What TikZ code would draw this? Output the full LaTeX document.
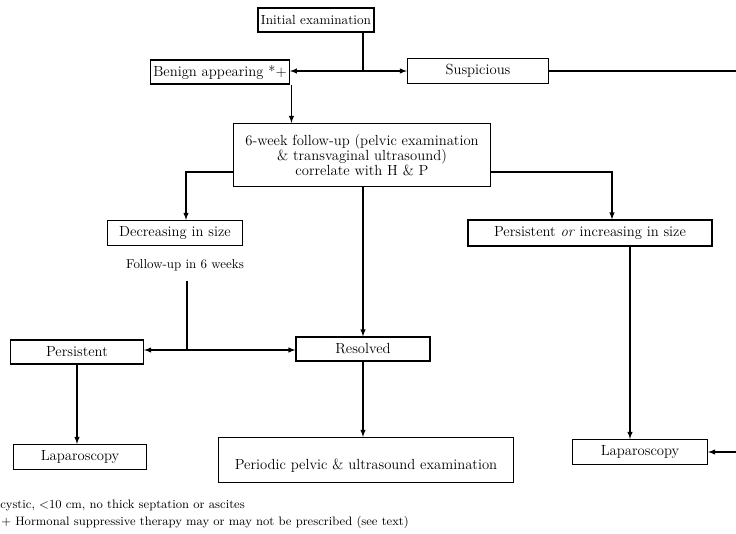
\documentclass[tikz,border=0pt]{standalone}
\usepackage{tikz}
\usetikzlibrary{arrows}
\tikzstyle{box}=[draw, line width=0.9pt, inner sep=2pt, align=center, font=\fontsize{11}{11.3}\selectfont]
\tikzstyle{flow}=[line width=0.8pt]
\tikzstyle{note}=[anchor=west, inner sep=0pt, font=\fontsize{9.2}{11}\selectfont]

\begin{document}
\begin{tikzpicture}[x=0.75pt, y=-0.75pt, font=\fontsize{9.7}{11}\selectfont]
\useasboundingbox (0,0) rectangle (736,533);
\clip (0,0) rectangle (736,533);
\node[box, minimum width=87pt, minimum height=18pt, font=\fontsize{9.9}{11}\selectfont] (init) at (316,20) {Initial examination};
\node[box, minimum width=99.75pt, minimum height=18pt] (benign) at (220,72) {Benign appearing *+};
\node[box, minimum width=105.75pt, minimum height=18.75pt] (susp) at (478,71) {Suspicious};
\node[box, minimum width=192.75pt, minimum height=47.25pt] (fwup) at (362,155) {6-week follow-up (pelvic examination\\ \& transvaginal ultrasound)\\ correlate with H \& P};
\node[box, minimum width=101.25pt, minimum height=18.75pt] (decr) at (175,233) {Decreasing in size};
\node (sixwk) at (185,265) {Follow-up in 6 weeks};
\node[box, minimum width=183pt, minimum height=19.5pt] (incr) at (590,233) {Persistent \emph{or} increasing in size};
\node[box, minimum width=99.75pt, minimum height=18pt] (pers) at (77,352) {Persistent};
\node[box, minimum width=100.5pt, minimum height=18pt] (resol) at (363,349) {Resolved};
\node[box, minimum width=99.75pt, minimum height=18.75pt] (lapl) at (80,457) {Laparoscopy};
\node[box, minimum width=221.25pt, minimum height=33.75pt] (period) at (366,460) {\raisebox{-4pt}[\height][\depth]{Periodic pelvic \& ultrasound examination}};
\node[box, minimum width=101.25pt, minimum height=18.75pt] (lapr) at (640,452) {Laparoscopy};
\node[note] (note1) at (0,505) {cystic, \textless10 cm, no thick septation or ascites};
\node[note] (note2) at (1,522) {+ Hormonal suppressive therapy may or may not be prescribed (see text)};
\coordinate (split) at (363,71);
\coordinate (edge) at (740,71);
\coordinate (join) at (187,350);
\draw[flow] (split |- init.south) -- (split);
\draw[flow,-latex] (split) -- (split -| benign.east);
\draw[flow,-latex] (split) -- (susp.west);
\draw[flow] (susp.east) -- (edge);
\draw[flow,-latex] (edge) |- (lapr.east);
\draw[flow,-latex] ([xshift=1.1pt]benign.south east) -- ([xshift=1.1pt]benign.south east |- fwup.north);
\draw[flow,-latex] ([yshift=-12.75pt]fwup.west) -| ([xshift=8.25pt]decr.north);
\draw[flow,-latex] ([yshift=-12.75pt]fwup.east) -| ([xshift=16.5pt]incr.north);
\draw[flow,-latex] (fwup.south -| resol.north) -- (resol.north);
\draw[flow] (join |- sixwk.south) ++(0,6) -- (join);
\draw[flow,-latex] (join) -- (join -| pers.east);
\draw[flow,-latex] (join) -- (join -| resol.west);
\draw[flow,-latex] (pers.south) -- (pers.south |- lapl.north);
\draw[flow,-latex] (resol.south) -- (resol.south |- period.north);
\draw[flow,-latex] ([xshift=30pt]incr.south) -- ([xshift=30pt]incr.south |- lapr.north);
\end{tikzpicture}
\end{document}
